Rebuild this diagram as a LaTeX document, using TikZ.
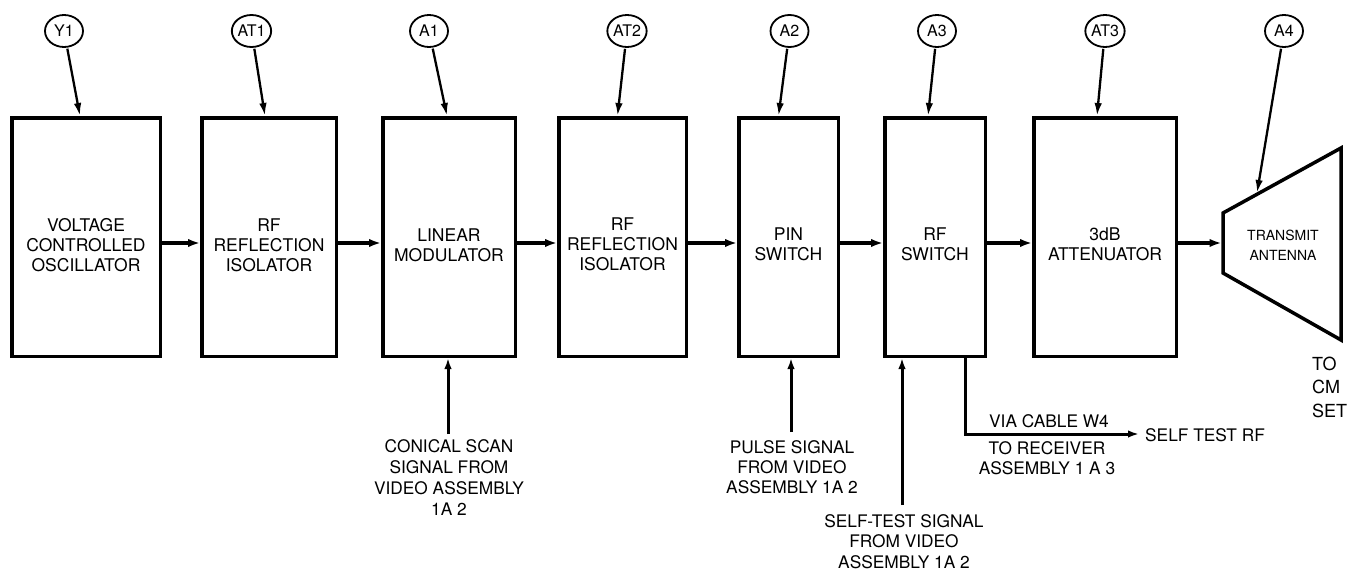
\documentclass[tikz,border=0pt]{standalone}
\usepackage{fontspec}
\setmainfont{TeX Gyre Heros}
\usetikzlibrary{arrows.meta,shapes.geometric}
\begin{document}
\begin{tikzpicture}[x=1pt,y=-1pt,
  blk/.style={draw,line width=3.5pt,inner sep=0pt,minimum height=238.5pt},
  btxt/.style={align=center,font=\fontsize{17.5}{20}\selectfont},
  stxt/.style={align=center,font=\fontsize{17.3}{20.3}\selectfont},
  tag/.style={draw,ellipse,line width=1.8pt,minimum width=38pt,minimum height=32pt,inner sep=0pt,font=\fontsize{16}{16}\selectfont},
  harr/.style={line width=3.5pt,-{Latex[length=12pt,width=8.5pt]}},
  sarr/.style={line width=2.3pt,shorten <=1pt,-{Latex[length=13pt,width=7.5pt]}},
  barr/.style={line width=3pt,-{Latex[length=11pt,width=7.5pt]}},
  ant/.style={draw,line width=3.5pt,line join=miter}]
\useasboundingbox (0,0) rectangle (1361,570);
% blocks
\node[blk,minimum width=148.5pt] (vco) at (86,237) {};
\node[blk,minimum width=134.5pt] (iso1) at (269,237) {};
\node[blk,minimum width=132.5pt] (lin) at (449,237) {};
\node[blk,minimum width=127.5pt] (iso2) at (622.5,237) {};
\node[blk,minimum width=99.5pt] (pin) at (788.5,237) {};
\node[blk,minimum width=100.5pt] (rfs) at (935,237) {};
\node[blk,minimum width=142.5pt] (att) at (1105,237) {};
\node[btxt] (vcot) at ([yshift=-8pt]vco.center) {VOLTAGE\\CONTROLLED\\OSCILLATOR};
\node[btxt] (iso1t) at ([yshift=-8pt]iso1.center) {RF\\REFLECTION\\ISOLATOR};
\node[btxt] (lint) at ([yshift=-8pt]lin.center) {LINEAR\\MODULATOR};
\node[btxt] (iso2t) at ([yshift=-7pt]iso2.center) {RF\\REFLECTION\\ISOLATOR};
\node[btxt] (pint) at ([yshift=-7pt]pin.center) {PIN\\SWITCH};
\node[btxt] (rfst) at ([yshift=-7pt]rfs.center) {RF\\SWITCH};
\node[btxt] (attt) at ([yshift=-7pt]att.center) {3dB\\ATTENUATOR};
% antenna
\coordinate (an1) at (1223,213);
\coordinate (an2) at (1341,148);
\coordinate (an3) at (1341,340);
\coordinate (an4) at (1223,273);
\draw[ant] (an1) -- (an2) -- (an3) -- (an4) -- cycle;
\node[align=center,font=\fontsize{14}{20}\selectfont] (antt) at (1283,245) {TRANSMIT\\ANTENNA};
\coordinate (antin) at (1221.5,243);
\coordinate (antop) at (1257,193);
% horizontal chain
\coordinate (mid) at (0,243);
\draw[harr] (vco.east |- mid) -- (iso1.west |- mid);
\draw[harr] (iso1.east |- mid) -- (lin.west |- mid);
\draw[harr] (lin.east |- mid) -- (iso2.west |- mid);
\draw[harr] (iso2.east |- mid) -- (pin.west |- mid);
\draw[harr] (pin.east |- mid) -- (rfs.west |- mid);
\draw[harr] (rfs.east |- mid) -- (att.west |- mid);
\draw[harr] (att.east |- mid) -- (antin);
% reference designators
\node[tag] (y1) at (64,31) {Y1};
\node[tag] (at1) at (251.5,31) {AT1};
\node[tag] (a1) at (429,31) {A1};
\node[tag] (at2) at (627,31) {AT2};
\node[tag] (a2) at (789.5,31) {A2};
\node[tag] (a3) at (937,31) {A3};
\node[tag] (at3) at (1105,31) {AT3};
\node[tag] (a4) at (1284,31) {A4};
\draw[sarr] (y1) -- ([xshift=-6pt]vco.north);
\draw[sarr] (at1) -- ([xshift=-4pt]iso1.north);
\draw[sarr] (a1) -- ([xshift=-2pt]lin.north);
\draw[sarr] (at2) -- ([xshift=-5pt]iso2.north);
\draw[sarr] (a2) -- ([xshift=-10pt]pin.north);
\draw[sarr] (a3) -- ([xshift=-7pt]rfs.north);
\draw[sarr] (at3) -- ([xshift=-8pt]att.north);
\draw[sarr] (a4) -- (antop);
% bottom inputs
\coordinate (csb) at (448,434);
\draw[barr] (csb) -- (csb |- lin.south);
\node[stxt,font=\fontsize{17.3}{21}\selectfont] (cst) at (449,478) {CONICAL SCAN\\SIGNAL FROM\\VIDEO ASSEMBLY\\1A 2};
\coordinate (psb) at (791,432);
\draw[barr] (psb) -- (psb |- pin.south);
\node[stxt] (pst) at (792,467) {PULSE SIGNAL\\FROM VIDEO\\ASSEMBLY 1A 2};
\coordinate (stb) at (902,505);
\draw[barr] (stb) -- (stb |- rfs.south);
\node[stxt] (stt) at (904,541.5) {SELF-TEST SIGNAL\\FROM VIDEO\\ASSEMBLY 1A 2};
% self test rf output
\coordinate (rfo) at (965.5,434);
\coordinate (rfend) at (1139,434);
\draw[barr] (rfs.south -| rfo) -- (rfo) -- (rfend);
\node[stxt] (via) at (1049,421) {VIA CABLE W4};
\node[stxt] (torx) at (1047,458) {TO RECEIVER\\ASSEMBLY 1 A 3};
\node[stxt,anchor=west,inner xsep=0pt] (strf) at (1145,435) {SELF TEST RF};
\node[align=left,anchor=west,inner xsep=0pt,font=\fontsize{18}{23.5}\selectfont] (cm) at (1312,387) {TO\\CM\\SET};
\end{tikzpicture}
\end{document}
